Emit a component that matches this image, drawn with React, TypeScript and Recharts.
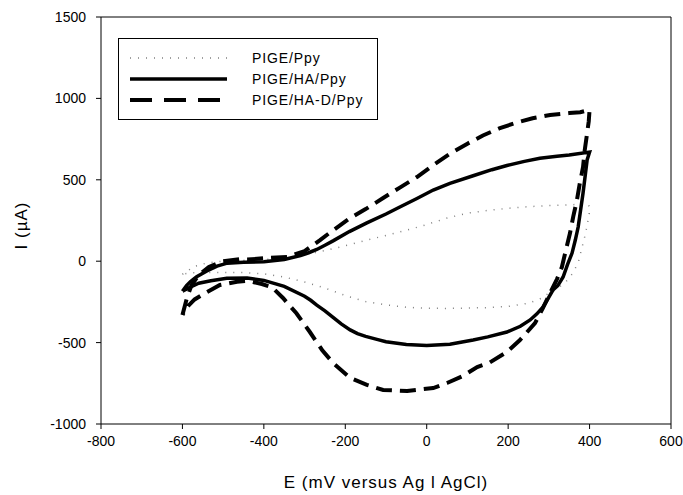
import { LineChart, Line, XAxis, YAxis, Legend, ReferenceLine } from "recharts";

// cyclic voltammograms, each loop runs -600 -> 400 (anodic) and back (cathodic)
const ppyE = [-600, -590, -575, -540, -500, -450, -400, -350, -300, -250, -200, -150, -100, -50, 0, 50, 100, 150, 200, 250, 300, 350, 380, 395, 400, 399, 394, 388, 382, 373, 360, 342, 320, 298, 278, 250, 200, 150, 100, 50, 0, -50, -100, -150, -200, -250, -300, -350, -400, -450, -500, -550, -580, -600];
const ppyI = [-80, -66, -36, -11, 0, 5, 10, 20, 40, 65, 95, 128, 158, 190, 225, 265, 295, 312, 325, 335, 342, 346, 350, 352, 335, 290, 220, 150, 90, 0, -70, -126, -170, -200, -232, -258, -278, -285, -288, -290, -289, -283, -268, -248, -211, -165, -128, -97, -78, -70, -70, -70, -72, -80];

const haE = [-600, -590, -580, -565, -540, -515, -490, -450, -400, -350, -310, -290, -270, -250, -230, -190, -147, -100, -66, -24, 16, 57, 114, 160, 197, 240, 278, 320, 350, 400, 394, 390, 384, 378, 372, 365, 357, 346, 335, 322, 310, 298, 286, 270, 254, 230, 197, 150, 114, 57, 0, -50, -100, -120, -150, -170, -188, -210, -230, -250, -270, -285, -300, -350, -400, -441, -491, -530, -560, -581, -600];
const haI = [-185, -150, -125, -95, -60, -30, -12, -6, -3, 10, 35, 52, 72, 98, 125, 182, 235, 290, 333, 385, 437, 478, 525, 562, 588, 613, 632, 645, 652, 670, 622, 540, 419, 315, 210, 130, 50, -20, -97, -150, -177, -230, -281, -325, -361, -400, -435, -465, -484, -510, -518, -512, -495, -482, -462, -445, -422, -385, -345, -305, -270, -240, -215, -155, -118, -103, -105, -120, -135, -160, -185];

const hadE = [-600, -589, -578, -560, -535, -500, -459, -441, -400, -343, -300, -262, -230, -188, -150, -107, -66, -24, 16, 57, 100, 138, 180, 222, 260, 303, 350, 377, 400, 398, 394, 388, 384, 376, 369, 360, 352, 342, 332, 320, 303, 285, 266, 245, 229, 197, 155, 124, 89, 50, 16, -48, -107, -147, -188, -230, -257, -287, -320, -353, -380, -405, -440, -466, -508, -540, -570, -590, -600];
const hadI = [-330, -226, -150, -85, -35, 0, 12, 10, 18, 26, 62, 130, 190, 265, 320, 388, 452, 517, 590, 660, 722, 772, 818, 852, 878, 898, 910, 915, 930, 860, 787, 680, 579, 478, 376, 275, 173, 70, -36, -110, -195, -290, -380, -440, -484, -557, -622, -650, -705, -748, -779, -797, -791, -760, -717, -625, -545, -435, -320, -226, -160, -140, -120, -126, -146, -190, -235, -285, -330];

const xTicks = [-800, -600, -400, -200, 0, 200, 400, 600];
const yTicks = [-1000, -500, 0, 500, 1000, 1500];

const toPoints = (es: number[], is: number[]) => es.map((e, k) => ({ e, i: is[k] }));
const ppy = toPoints(ppyE, ppyI);
const ha = toPoints(haE, haI);
const had = toPoints(hadE, hadI);

const font = "'Liberation Sans', Arial, sans-serif";

const series = [
  { name: "PIGE/Ppy", stroke: "#808080", width: 1.5, dash: "1 7" },
  { name: "PIGE/HA/Ppy", stroke: "#000", width: 3.5, dash: undefined },
  { name: "PIGE/HA-D/Ppy", stroke: "#000", width: 4, dash: "22 12" },
];

function LegendBox() {
  return (
    <svg width={260} height={82} style={{ display: "block" }}>
      <rect x={0.5} y={0.5} width={259} height={81} fill="#fff" stroke="#000" />
      {series.map((s, k) => (
        <g key={s.name}>
          <line
            x1={12}
            x2={109}
            y1={20 + k * 21}
            y2={20 + k * 21}
            stroke={s.stroke}
            strokeWidth={s.width}
            strokeDasharray={s.dash}
          />
          <text x={134} y={25 + k * 21} fontSize={14} fontFamily={font} letterSpacing={0.9} fill="#000">
            {s.name}
          </text>
        </g>
      ))}
    </svg>
  );
}

export default function App() {
  const tickStyle = { fill: "#000", fontSize: 14, fontFamily: font };
  return (
    <div style={{ position: "absolute", left: 0, top: 0, background: "#fff" }}>
      <LineChart width={683} height={495} margin={{ top: 17, right: 12, bottom: 0, left: 0 }}>
        <XAxis
          type="number"
          dataKey="e"
          domain={[-800, 600]}
          ticks={xTicks}
          allowDataOverflow
          height={71}
          tickSize={5}
          tickMargin={7}
          tick={tickStyle}
          stroke="#000"
          label={{
            content: ({ viewBox }: any) => (
              <text
                x={viewBox.x + viewBox.width / 2}
                y={viewBox.y + 64}
                textAnchor="middle"
                fontSize={17}
                fontFamily={font}
                letterSpacing={1}
                fill="#000"
              >
                E (mV versus Ag l AgCl)
              </text>
            ),
          }}
        />
        <YAxis
          type="number"
          dataKey="i"
          domain={[-1000, 1500]}
          ticks={yTicks}
          allowDataOverflow
          width={101}
          tickSize={5}
          tickMargin={10}
          tick={tickStyle}
          stroke="#000"
          label={{
            content: ({ viewBox }: any) => {
              const cx = 21;
              const cy = viewBox.y + viewBox.height / 2 + 5;
              return (
                <text
                  x={cx}
                  y={cy}
                  transform={`rotate(-90 ${cx} ${cy})`}
                  textAnchor="middle"
                  dominantBaseline="central"
                  fontSize={17}
                  fontFamily={font}
                  letterSpacing={1}
                  fill="#000"
                >
                  I (µA)
                </text>
              );
            },
          }}
        />
        <ReferenceLine x={600} stroke="#000" />
        <ReferenceLine y={1500} stroke="#000" />
        <Line
          data={ppy}
          dataKey="i"
          name="PIGE/Ppy"
          type="linear"
          stroke="#808080"
          strokeWidth={1.5}
          strokeDasharray="1 7"
          dot={false}
          activeDot={false}
          isAnimationActive={false}
        />
        <Line
          data={had}
          dataKey="i"
          name="PIGE/HA-D/Ppy"
          type="linear"
          stroke="#000"
          strokeWidth={4}
          strokeDasharray="16 8"
          dot={false}
          activeDot={false}
          isAnimationActive={false}
        />
        <Line
          data={ha}
          dataKey="i"
          name="PIGE/HA/Ppy"
          type="linear"
          stroke="#000"
          strokeWidth={3.5}
          dot={false}
          activeDot={false}
          isAnimationActive={false}
        />
        <Legend
          layout="vertical"
          align="center"
          verticalAlign="middle"
          content={() => <LegendBox />}
          wrapperStyle={{ left: 118, top: 38, width: 260, height: 82 }}
        />
      </LineChart>
    </div>
  );
}
